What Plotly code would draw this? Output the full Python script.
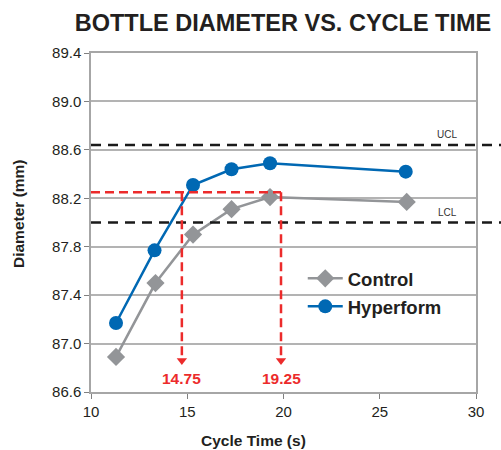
import plotly.graph_objects as go

cycle_time_hyper = [11.3, 13.3, 15.3, 17.3, 19.3, 26.35]
diam_hyper = [87.17, 87.77, 88.31, 88.44, 88.49, 88.42]
cycle_time_ctrl = [11.3, 13.35, 15.3, 17.3, 19.3, 26.4]
diam_ctrl = [86.89, 87.50, 87.90, 88.11, 88.21, 88.17]

ucl = 88.64
lcl = 88.0
target = 88.25
cross_x = [14.72, 19.87]
cross_labels = ["14.75", "19.25"]
arrow_tip_y = 86.86
label_y = 86.715

BLUE = "#0068b3"
GRAY = "#939598"
RED = "#ec2b2b"
DARK = "#231f20"
GRID = "#b3b3b3"
FONT = "Liberation Sans, Arial, sans-serif"

fig = go.Figure()

fig.add_trace(go.Scatter(
    x=cycle_time_ctrl, y=diam_ctrl, name="<b>Control</b>", mode="lines+markers",
    line=dict(color=GRAY, width=2.5),
    marker=dict(symbol="diamond", size=14, color=GRAY),
    legendgroup="a"))
fig.add_trace(go.Scatter(
    x=cycle_time_hyper, y=diam_hyper, name="<b>Hyperform</b>", mode="lines+markers",
    line=dict(color=BLUE, width=2.5),
    marker=dict(symbol="circle", size=14, color=BLUE),
    legendgroup="b"))

# arrow heads
fig.add_trace(go.Scatter(
    x=cross_x, y=[arrow_tip_y] * 2, mode="markers", showlegend=False,
    marker=dict(symbol="triangle-down", size=9, color=RED), hoverinfo="skip"))

shapes = []
for yv in (ucl, lcl):
    shapes.append(dict(type="line", xref="paper", yref="y", x0=0, x1=1.065,
                       y0=yv, y1=yv, line=dict(color="#1a1a1a", width=2.5, dash="10px,7px"),
                       layer="above"))
shapes.append(dict(type="line", xref="x", yref="y", x0=10, x1=cross_x[1],
                   y0=target, y1=target, line=dict(color=RED, width=2.5, dash="9px,5px")))
for xv in cross_x:
    shapes.append(dict(type="line", xref="x", yref="y", x0=xv, x1=xv,
                       y0=target, y1=arrow_tip_y + 0.03,
                       line=dict(color=RED, width=2.5, dash="9px,5px")))

annotations = [
    dict(text="UCL", x=0.955, y=ucl, xref="paper", yref="y", yanchor="bottom",
         yshift=3, showarrow=False, font=dict(size=10, color="#333333")),
    dict(text="LCL", x=0.955, y=lcl, xref="paper", yref="y", yanchor="bottom",
         yshift=3, showarrow=False, font=dict(size=10, color="#333333")),
    dict(text="<b>Cycle Time (s)</b>", x=(253 - 91) / 385, y=-48 / 339, xref="paper",
         yref="paper", yanchor="middle", showarrow=False, font=dict(size=15.5, color=DARK)),
    dict(text="<b>Diameter (mm)</b>", x=-73 / 385, y=(392 - 214) / 339, xref="paper",
         yref="paper", xanchor="center", textangle=-90, showarrow=False,
         font=dict(size=15.5, color=DARK)),
]
for xv, lab in zip(cross_x, cross_labels):
    annotations.append(dict(text="<b>" + lab + "</b>", x=xv, y=label_y, xref="x", yref="y",
                            showarrow=False, font=dict(size=15.5, color=RED)))

fig.update_layout(
    width=501, height=450,
    margin=dict(l=91, r=25, t=53, b=58),
    paper_bgcolor="white", plot_bgcolor="white",
    font=dict(family=FONT, color=DARK, size=13),
    title=dict(text="<b>BOTTLE DIAMETER VS. CYCLE TIME</b>", x=283 / 501, xanchor="center",
               y=1 - 23 / 450, yanchor="middle", font=dict(size=23.5, color=DARK)),
    shapes=shapes, annotations=annotations,
    legend=dict(x=0.55, y=0.39, xanchor="left", yanchor="top", bgcolor="rgba(0,0,0,0)",
                font=dict(size=18.5, color=DARK, family=FONT),
                traceorder="grouped", tracegroupgap=1, itemwidth=35),
    showlegend=True,
)
fig.update_xaxes(range=[10, 30], tick0=10, dtick=5, showgrid=False, showline=True, mirror=True,
                 linecolor="#a6a6a6", linewidth=1.5, ticks="outside", ticklen=5,
                 tickcolor="#808080", zeroline=False, tickfont=dict(size=15, color=DARK),
                 automargin=False)
fig.update_yaxes(range=[86.6, 89.4], tick0=86.6, dtick=0.4, tickformat=".1f", showgrid=True,
                 gridcolor=GRID, gridwidth=1.5, showline=True, mirror=True,
                 linecolor="#a6a6a6", linewidth=1.5, ticks="outside", ticklen=5,
                 tickcolor="#808080", zeroline=False, tickfont=dict(size=15, color=DARK),
                 automargin=False)

fig.write_html("out.html", config={"displayModeBar": False},
               post_script="document.body.style.margin='0';")
